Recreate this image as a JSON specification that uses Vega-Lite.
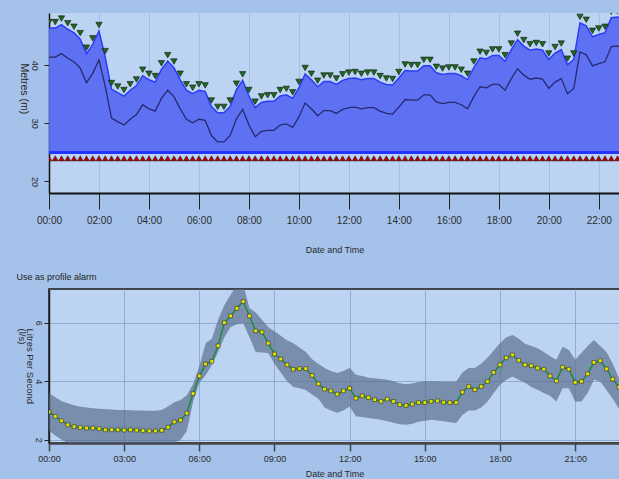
{
  "$schema": "https://vega.github.io/schema/vega-lite/v6.json",
  "background": "#a5c2ea",
  "padding": {"left": 15, "top": 13, "right": 0, "bottom": 0},
  "spacing": 18,
  "config": {
    "font": "Liberation Sans",
    "axis": {"labelColor": "#2a2a2a", "titleColor": "#2a2a2a", "titleFontWeight": "normal"},
    "title": {"fontWeight": "normal"}
  },
  "vconcat": [
    {
      "width": 571,
      "height": 180,
      "view": {"stroke": null, "fill": "#bcd3f1"},
      "data": {
        "values": [
          {"t": 0, "lv": 46.4, "lo": 41.4}, {"t": 0.25, "lv": 46.4, "lo": 41.4}, {"t": 0.5, "lv": 47.0, "lo": 42.0}, {"t": 0.75, "lv": 46.2, "lo": 41.2},
          {"t": 1, "lv": 45.6, "lo": 40.6}, {"t": 1.25, "lv": 44.5, "lo": 39.5}, {"t": 1.5, "lv": 42.0, "lo": 37.0}, {"t": 1.75, "lv": 43.6, "lo": 38.6},
          {"t": 2, "lv": 45.9, "lo": 40.9}, {"t": 2.25, "lv": 41.4, "lo": 36.4}, {"t": 2.5, "lv": 35.9, "lo": 30.9}, {"t": 2.75, "lv": 35.3, "lo": 30.3},
          {"t": 3, "lv": 34.7, "lo": 29.7}, {"t": 3.25, "lv": 35.7, "lo": 30.7}, {"t": 3.5, "lv": 36.5, "lo": 31.5}, {"t": 3.75, "lv": 38.2, "lo": 33.2},
          {"t": 4, "lv": 37.5, "lo": 32.5}, {"t": 4.25, "lv": 37.1, "lo": 32.1}, {"t": 4.5, "lv": 39.3, "lo": 34.3}, {"t": 4.75, "lv": 40.7, "lo": 35.7},
          {"t": 5, "lv": 39.6, "lo": 34.6}, {"t": 5.25, "lv": 37.5, "lo": 32.5}, {"t": 5.5, "lv": 35.7, "lo": 30.7}, {"t": 5.75, "lv": 35.1, "lo": 30.1},
          {"t": 6, "lv": 35.7, "lo": 30.7}, {"t": 6.25, "lv": 35.5, "lo": 30.5}, {"t": 6.5, "lv": 32.9, "lo": 27.9}, {"t": 6.75, "lv": 31.8, "lo": 26.8},
          {"t": 7, "lv": 31.8, "lo": 26.8}, {"t": 7.25, "lv": 32.9, "lo": 27.9}, {"t": 7.5, "lv": 35.8, "lo": 30.8}, {"t": 7.75, "lv": 37.4, "lo": 32.4},
          {"t": 8, "lv": 34.7, "lo": 29.7}, {"t": 8.25, "lv": 32.7, "lo": 27.7}, {"t": 8.5, "lv": 33.6, "lo": 28.6}, {"t": 8.75, "lv": 33.8, "lo": 28.8},
          {"t": 9, "lv": 33.8, "lo": 28.8}, {"t": 9.25, "lv": 34.7, "lo": 29.7}, {"t": 9.5, "lv": 34.9, "lo": 29.9}, {"t": 9.75, "lv": 34.3, "lo": 29.3},
          {"t": 10, "lv": 36.1, "lo": 31.1}, {"t": 10.25, "lv": 38.5, "lo": 33.5}, {"t": 10.5, "lv": 37.5, "lo": 32.5}, {"t": 10.75, "lv": 36.3, "lo": 31.3},
          {"t": 11, "lv": 37.2, "lo": 32.2}, {"t": 11.25, "lv": 37.2, "lo": 32.2}, {"t": 11.5, "lv": 36.7, "lo": 31.7}, {"t": 11.75, "lv": 37.4, "lo": 32.4},
          {"t": 12, "lv": 37.7, "lo": 32.7}, {"t": 12.25, "lv": 37.8, "lo": 32.8}, {"t": 12.5, "lv": 37.5, "lo": 32.5}, {"t": 12.75, "lv": 37.7, "lo": 32.7},
          {"t": 13, "lv": 37.7, "lo": 32.7}, {"t": 13.25, "lv": 37.1, "lo": 32.1}, {"t": 13.5, "lv": 36.7, "lo": 31.7}, {"t": 13.75, "lv": 36.6, "lo": 31.6},
          {"t": 14, "lv": 37.8, "lo": 32.8}, {"t": 14.25, "lv": 39.1, "lo": 34.1}, {"t": 14.5, "lv": 39.0, "lo": 34.0}, {"t": 14.75, "lv": 39.0, "lo": 34.0},
          {"t": 15, "lv": 39.9, "lo": 34.9}, {"t": 15.25, "lv": 39.9, "lo": 34.9}, {"t": 15.5, "lv": 38.7, "lo": 33.7}, {"t": 15.75, "lv": 38.4, "lo": 33.4},
          {"t": 16, "lv": 38.6, "lo": 33.6}, {"t": 16.25, "lv": 38.6, "lo": 33.6}, {"t": 16.5, "lv": 38.2, "lo": 33.2}, {"t": 16.75, "lv": 37.5, "lo": 32.5},
          {"t": 17, "lv": 39.6, "lo": 34.6}, {"t": 17.25, "lv": 41.3, "lo": 36.3}, {"t": 17.5, "lv": 41.1, "lo": 36.1}, {"t": 17.75, "lv": 41.7, "lo": 36.7},
          {"t": 18, "lv": 41.7, "lo": 36.7}, {"t": 18.25, "lv": 40.7, "lo": 35.7}, {"t": 18.5, "lv": 42.7, "lo": 37.7}, {"t": 18.75, "lv": 44.4, "lo": 39.4},
          {"t": 19, "lv": 43.3, "lo": 38.3}, {"t": 19.25, "lv": 42.6, "lo": 37.6}, {"t": 19.5, "lv": 42.8, "lo": 37.8}, {"t": 19.75, "lv": 42.6, "lo": 37.6},
          {"t": 20, "lv": 41.0, "lo": 36.0}, {"t": 20.25, "lv": 42.1, "lo": 37.1}, {"t": 20.5, "lv": 42.7, "lo": 37.7}, {"t": 20.75, "lv": 40.1, "lo": 35.1},
          {"t": 21, "lv": 41.0, "lo": 36.0}, {"t": 21.25, "lv": 47.3, "lo": 42.3}, {"t": 21.5, "lv": 46.8, "lo": 41.8}, {"t": 21.75, "lv": 44.9, "lo": 39.9},
          {"t": 22, "lv": 45.3, "lo": 40.3}, {"t": 22.25, "lv": 45.6, "lo": 40.6}, {"t": 22.5, "lv": 48.2, "lo": 43.2}, {"t": 22.75, "lv": 48.3, "lo": 43.3},
          {"t": 23, "lv": 48.0, "lo": 43.0}
        ]
      },
      "layer": [
        {
          "mark": {"type": "area", "color": "#5a6cf2", "opacity": 0.95, "clip": true},
          "encoding": {
            "x": {
              "field": "t", "type": "quantitative",
              "scale": {"domain": [0, 22.85], "nice": false, "zero": false},
              "axis": {
                "title": "Date and Time", "titleFontSize": 9, "titlePadding": 20,
                "values": [0,0.5,1,1.5,2,2.5,3,3.5,4,4.5,5,5.5,6,6.5,7,7.5,8,8.5,9,9.5,10,10.5,11,11.5,12,12.5,13,13.5,14,14.5,15,15.5,16,16.5,17,17.5,18,18.5,19,19.5,20,20.5,21,21.5,22,22.5],
                "labelExpr": "datum.value % 2 == 0 ? (datum.value < 10 ? '0' : '') + datum.value + ':00' : ''",
                "labelOverlap": false, "labelFlush": false, "labelFontSize": 10, "labelPadding": 6,
                "tickSize": {"condition": {"test": "datum.value % 2 == 0", "value": 16}, "value": 8},
                "tickColor": "#222", "tickWidth": 1,
                "domainColor": "#111", "domainWidth": 2,
                "grid": true, "gridColor": "#7f9cc8", "gridOpacity": 0.35
              }
            },
            "y": {
              "field": "lv", "type": "quantitative",
              "scale": {"domain": [18, 49], "nice": false, "zero": false},
              "axis": {
                "title": "Metres (m)", "titleFontSize": 10.5, "titleAngle": 90, "titleAlign": "left", "titleBaseline": "top", "titleX": -21, "titleY": 50,
                "values": [20, 25, 30, 35, 40, 45],
                "labelOverlap": false,
                "labelAngle": 90, "labelAlign": "center", "labelBaseline": "top", "labelFontSize": 9, "labelPadding": 6,
                "tickSize": 5,
                "tickColor": "#222", "domainColor": "#111", "domainWidth": 1.5, "grid": false
              }
            },
            "y2": {"datum": 25}
          }
        },
        {
          "mark": {"type": "line", "color": "#2b3cf8", "strokeWidth": 1.5, "clip": true},
          "encoding": {"x": {"field": "t", "type": "quantitative"}, "y": {"field": "lv", "type": "quantitative"}}
        },
        {
          "mark": {"type": "line", "color": "#262a6e", "strokeWidth": 1.3, "clip": true},
          "encoding": {"x": {"field": "t", "type": "quantitative"}, "y": {"field": "lo", "type": "quantitative"}}
        },
        {
          "mark": {"type": "rule", "color": "#2234ff", "strokeWidth": 2.5},
          "encoding": {"y": {"datum": 25}}
        },
        {
          "mark": {"type": "point", "shape": "triangle-up", "filled": true, "fill": "#b00000", "stroke": "#222", "strokeWidth": 0.5, "size": 36, "opacity": 1, "yOffset": 6, "clip": true},
          "encoding": {"x": {"field": "t", "type": "quantitative"}, "y": {"datum": 25}}
        },
        {
          "mark": {"type": "point", "shape": "triangle-down", "filled": true, "fill": "#1d6a1d", "stroke": "#111", "strokeWidth": 0.6, "size": 40, "opacity": 1, "yOffset": -6, "clip": true},
          "encoding": {"x": {"field": "t", "type": "quantitative"}, "y": {"field": "lv", "type": "quantitative"}}
        }
      ]
    },
    {
      "width": 571,
      "height": 154,
      "title": {"text": "Use as profile alarm", "anchor": "start", "fontSize": 9, "color": "#222", "offset": 7},
      "view": {"stroke": "#1a1a1a", "strokeWidth": 1.5, "fill": "#bcd3f1"},
      "data": {
        "values": [
          {"t": 0, "v": 2.95, "hi": 3.59, "lo": 2.32}, {"t": 0.25, "v": 2.80, "hi": 3.45, "lo": 2.15}, {"t": 0.5, "v": 2.65, "hi": 3.32, "lo": 2.0}, {"t": 0.75, "v": 2.51, "hi": 3.25, "lo": 1.9},
          {"t": 1, "v": 2.45, "hi": 3.18, "lo": 1.85}, {"t": 1.25, "v": 2.42, "hi": 3.13, "lo": 1.8}, {"t": 1.5, "v": 2.40, "hi": 3.10, "lo": 1.8}, {"t": 1.75, "v": 2.40, "hi": 3.08, "lo": 1.8},
          {"t": 2, "v": 2.38, "hi": 3.06, "lo": 1.8}, {"t": 2.25, "v": 2.34, "hi": 3.04, "lo": 1.8}, {"t": 2.5, "v": 2.34, "hi": 3.03, "lo": 1.8}, {"t": 2.75, "v": 2.34, "hi": 3.02, "lo": 1.8},
          {"t": 3, "v": 2.33, "hi": 3.02, "lo": 1.8}, {"t": 3.25, "v": 2.34, "hi": 3.01, "lo": 1.8}, {"t": 3.5, "v": 2.33, "hi": 3.00, "lo": 1.8}, {"t": 3.75, "v": 2.31, "hi": 3.00, "lo": 1.8},
          {"t": 4, "v": 2.30, "hi": 2.99, "lo": 1.8}, {"t": 4.25, "v": 2.30, "hi": 2.99, "lo": 1.8}, {"t": 4.5, "v": 2.32, "hi": 3.02, "lo": 1.8}, {"t": 4.75, "v": 2.43, "hi": 3.14, "lo": 1.85},
          {"t": 5, "v": 2.61, "hi": 3.28, "lo": 1.9}, {"t": 5.25, "v": 2.67, "hi": 3.36, "lo": 2.0}, {"t": 5.5, "v": 2.91, "hi": 3.52, "lo": 2.3}, {"t": 5.75, "v": 3.58, "hi": 3.9, "lo": 3.3},
          {"t": 6, "v": 4.18, "hi": 4.5, "lo": 3.95}, {"t": 6.25, "v": 4.59, "hi": 5.3, "lo": 4.2}, {"t": 6.5, "v": 4.68, "hi": 5.45, "lo": 4.55}, {"t": 6.75, "v": 5.21, "hi": 6.1, "lo": 5.0},
          {"t": 7, "v": 6.0, "hi": 6.6, "lo": 5.5}, {"t": 7.25, "v": 6.23, "hi": 6.95, "lo": 5.85}, {"t": 7.5, "v": 6.49, "hi": 7.3, "lo": 5.95}, {"t": 7.75, "v": 6.72, "hi": 7.3, "lo": 5.98},
          {"t": 8, "v": 6.23, "hi": 6.5, "lo": 5.5}, {"t": 8.25, "v": 5.72, "hi": 6.35, "lo": 5.0}, {"t": 8.5, "v": 5.68, "hi": 6.1, "lo": 4.98}, {"t": 8.75, "v": 5.30, "hi": 5.85, "lo": 4.96},
          {"t": 9, "v": 4.93, "hi": 5.7, "lo": 4.6}, {"t": 9.25, "v": 4.76, "hi": 5.55, "lo": 4.3}, {"t": 9.5, "v": 4.56, "hi": 5.4, "lo": 4.0}, {"t": 9.75, "v": 4.41, "hi": 5.3, "lo": 3.8},
          {"t": 10, "v": 4.43, "hi": 5.15, "lo": 3.76}, {"t": 10.25, "v": 4.43, "hi": 5.0, "lo": 3.7}, {"t": 10.5, "v": 4.20, "hi": 4.75, "lo": 3.55}, {"t": 10.75, "v": 3.91, "hi": 4.6, "lo": 3.4},
          {"t": 11, "v": 3.73, "hi": 4.45, "lo": 3.1}, {"t": 11.25, "v": 3.67, "hi": 4.35, "lo": 3.0}, {"t": 11.5, "v": 3.56, "hi": 4.28, "lo": 2.92}, {"t": 11.75, "v": 3.67, "hi": 4.35, "lo": 3.0},
          {"t": 12, "v": 3.76, "hi": 4.45, "lo": 3.14}, {"t": 12.25, "v": 3.42, "hi": 4.22, "lo": 2.8}, {"t": 12.5, "v": 3.50, "hi": 4.18, "lo": 2.78}, {"t": 12.75, "v": 3.44, "hi": 4.12, "lo": 2.74},
          {"t": 13, "v": 3.37, "hi": 4.1, "lo": 2.72}, {"t": 13.25, "v": 3.31, "hi": 4.08, "lo": 2.68}, {"t": 13.5, "v": 3.39, "hi": 4.05, "lo": 2.63}, {"t": 13.75, "v": 3.31, "hi": 4.0, "lo": 2.58},
          {"t": 14, "v": 3.20, "hi": 3.93, "lo": 2.53}, {"t": 14.25, "v": 3.17, "hi": 3.9, "lo": 2.51}, {"t": 14.5, "v": 3.22, "hi": 3.92, "lo": 2.55}, {"t": 14.75, "v": 3.27, "hi": 3.97, "lo": 2.62},
          {"t": 15, "v": 3.27, "hi": 4.0, "lo": 2.65}, {"t": 15.25, "v": 3.31, "hi": 4.0, "lo": 2.68}, {"t": 15.5, "v": 3.33, "hi": 3.99, "lo": 2.66}, {"t": 15.75, "v": 3.28, "hi": 3.98, "lo": 2.63},
          {"t": 16, "v": 3.27, "hi": 3.98, "lo": 2.6}, {"t": 16.25, "v": 3.27, "hi": 3.99, "lo": 2.57}, {"t": 16.5, "v": 3.63, "hi": 4.3, "lo": 2.85}, {"t": 16.75, "v": 3.82, "hi": 4.45, "lo": 3.0},
          {"t": 17, "v": 3.71, "hi": 4.45, "lo": 3.0}, {"t": 17.25, "v": 3.82, "hi": 4.6, "lo": 3.1}, {"t": 17.5, "v": 3.99, "hi": 4.8, "lo": 3.3}, {"t": 17.75, "v": 4.30, "hi": 5.05, "lo": 3.6},
          {"t": 18, "v": 4.56, "hi": 5.3, "lo": 3.88}, {"t": 18.25, "v": 4.80, "hi": 5.5, "lo": 4.05}, {"t": 18.5, "v": 4.90, "hi": 5.58, "lo": 4.16}, {"t": 18.75, "v": 4.71, "hi": 5.45, "lo": 4.05},
          {"t": 19, "v": 4.56, "hi": 5.28, "lo": 3.95}, {"t": 19.25, "v": 4.53, "hi": 5.2, "lo": 3.8}, {"t": 19.5, "v": 4.45, "hi": 5.13, "lo": 3.71}, {"t": 19.75, "v": 4.41, "hi": 5.0, "lo": 3.6},
          {"t": 20, "v": 4.18, "hi": 4.85, "lo": 3.5}, {"t": 20.25, "v": 4.01, "hi": 4.73, "lo": 3.31}, {"t": 20.5, "v": 4.48, "hi": 5.18, "lo": 3.76}, {"t": 20.75, "v": 4.41, "hi": 5.07, "lo": 3.76},
          {"t": 21, "v": 3.96, "hi": 4.73, "lo": 3.31}, {"t": 21.25, "v": 3.99, "hi": 4.96, "lo": 3.31}, {"t": 21.5, "v": 4.25, "hi": 5.2, "lo": 3.6}, {"t": 21.75, "v": 4.64, "hi": 5.41, "lo": 4.05},
          {"t": 22, "v": 4.70, "hi": 5.2, "lo": 3.99}, {"t": 22.25, "v": 4.42, "hi": 5.0, "lo": 3.7}, {"t": 22.5, "v": 4.07, "hi": 4.6, "lo": 3.4}, {"t": 22.75, "v": 3.80, "hi": 4.1, "lo": 3.05},
          {"t": 23, "v": 3.60, "hi": 3.9, "lo": 2.85}
        ]
      },
      "layer": [
        {
          "mark": {"type": "area", "color": "#56688a", "opacity": 0.66, "clip": true},
          "encoding": {
            "x": {
              "field": "t", "type": "quantitative",
              "scale": {"domain": [0, 22.79], "nice": false, "zero": false},
              "axis": {
                "title": "Date and Time", "titleFontSize": 9, "titlePadding": 6,
                "values": [0, 3, 6, 9, 12, 15, 18, 21],
                "labelExpr": "(datum.value < 10 ? '0' : '') + datum.value + ':00'",
                "labelFontSize": 9, "labelPadding": 3, "labelFlush": false, "labelOverlap": false,
                "tickSize": 8, "tickColor": "#444", "tickWidth": 1.5,
                "domainColor": "#444", "domainWidth": 2.5,
                "grid": true, "gridColor": "#86a2cc", "gridOpacity": 0.8
              }
            },
            "y": {
              "field": "hi", "type": "quantitative",
              "scale": {"domain": [1.89, 7.15], "nice": false, "zero": false},
              "axis": {
                "title": ["Litres Per Second", "(l/s)"], "titleFontSize": 9.5, "titleLineHeight": 8, "titleAngle": 90, "titleAlign": "left", "titleBaseline": "top", "titleX": -15, "titleY": 39,
                "values": [2, 3, 4, 5, 6, 7],
                "labelOverlap": false,
                "labelAngle": 90, "labelAlign": "center", "labelBaseline": "top", "labelFontSize": 9, "labelPadding": 2,
                "tickSize": 5,
                "tickColor": "#222", "domainColor": "#222", "domainWidth": 1.5,
                "grid": true, "gridColor": "#86a2cc", "gridOpacity": 0.8
              }
            },
            "y2": {"field": "lo"}
          }
        },
        {
          "mark": {"type": "line", "color": "#1f8a3c", "strokeWidth": 1.5, "clip": true},
          "encoding": {"x": {"field": "t", "type": "quantitative"}, "y": {"field": "v", "type": "quantitative"}}
        },
        {
          "mark": {"type": "point", "shape": "square", "filled": true, "fill": "#e6e600", "stroke": "#333", "strokeWidth": 0.6, "size": 14, "opacity": 1, "clip": true},
          "encoding": {"x": {"field": "t", "type": "quantitative"}, "y": {"field": "v", "type": "quantitative"}}
        }
      ]
    }
  ]
}
